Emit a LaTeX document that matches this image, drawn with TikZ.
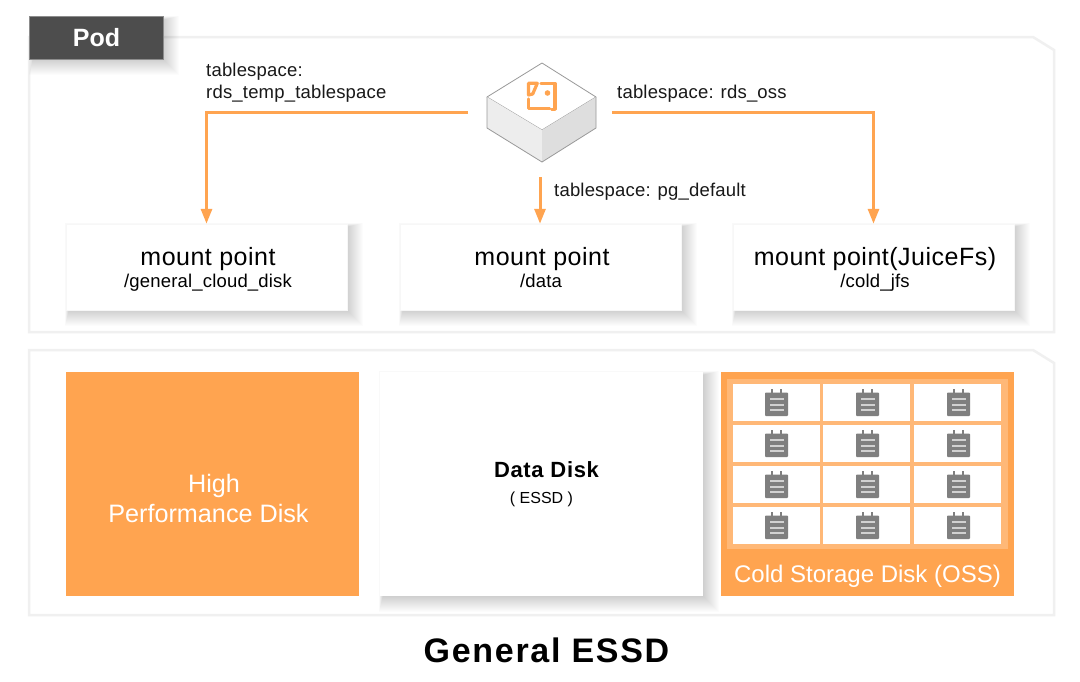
\documentclass[tikz,border=0pt]{standalone}
\usepackage{fontspec}
\setmainfont{Liberation Sans}
\definecolor{org}{HTML}{FFA450}
\definecolor{orgl}{HTML}{FFB877}
\definecolor{dark}{HTML}{4D4D4D}
\definecolor{ico}{HTML}{7F7F7F}
\newcommand{\fs}[1]{\fontsize{#1}{#1}\selectfont}
\newcommand{\fsp}[2]{\fontsize{#1}{#1}\selectfont\addfontfeature{LetterSpace=#2}}
\newcommand{\softshadow}[4]{%
  \foreach \s in {1,2,...,16}{%
    \fill[black,opacity=0.010] (#1+3-0.25*\s,#2+3-0.25*\s) rectangle (#3+\s,#4+\s);}}
\newcommand{\notebook}[2]{%
  \begin{scope}[shift={(#1,#2)}]
    \fill[ico,rounded corners=0.8pt] (-11.5,-10.5) rectangle (11.5,13);
    \fill[ico] (-5.8,-14) rectangle (-3.8,-9);
    \fill[ico] (3.8,-14) rectangle (5.8,-9);
    \foreach \yy in {-5.5,0.5,5.5}{\fill[white!82!black] (-7,\yy) rectangle (7,\yy+2.2);}
  \end{scope}}
\tikzset{
  x=1pt,y=-1pt,
  flow/.style={draw=org,line width=3pt,-{Triangle[length=15pt,width=11pt]}},
  mount/.style={fill=white,draw=black!3,line width=0.5pt,minimum width=281pt,minimum height=86pt,align=center,inner sep=0pt},
  cap1/.style={font=\fsp{18.5}{1},anchor=base west,inner sep=0pt,text=black!90},
  mtitle/.style={font=\fsp{25}{2},inner sep=0pt,anchor=base},
  msub/.style={font=\fsp{18.5}{1},inner sep=0pt,anchor=base},
  panel/.style={fill=white,draw=black!6,line width=2.5pt},
  icon/.style={org,line width=3.2pt,line join=round,line cap=round},
}
\usetikzlibrary{arrows.meta,calc}
\begin{document}
\begin{tikzpicture}
\useasboundingbox (0,0) rectangle (1080,681);
\fill[white] (0,0) rectangle (1080,681);
% panels
\path[panel] (29,37) -- (1033,37) -- (1054,50) -- (1054,332) -- (29,332) -- cycle;
\path[panel] (29,350) -- (1033,350) -- (1054,363) -- (1054,615) -- (29,615) -- cycle;
% Pod tab
\softshadow{30}{17}{163}{59}
\node[fill=dark,draw=black!45,line width=0.4pt,minimum width=134pt,minimum height=43pt,inner sep=0pt,text=white,font=\bfseries\fs{25}] (pod) at (96.5,38) {\raisebox{1pt}{Pod}};
% cube
\fill[white,draw=black!40,line width=0.8pt,line join=round] (542,63) -- (596,97) -- (542,130) -- (487,97) -- cycle;
\fill[black!7] (487,97) -- (542,130) -- (542,162) -- (487,128) -- cycle;
\fill[black!13] (596,97) -- (542,130) -- (542,162) -- (596,128) -- cycle;
\draw[black!40,line width=0.8pt,line join=round] (487,97) -- (487,128) -- (542,162) -- (596,128) -- (596,97);
\draw[icon] (541,83.3) -- (555,83.3) -- (555,109.3) -- (551.7,109.3);
\draw[icon] (549.5,108.5) -- (528.5,108.5) -- (528.5,99);
\draw[icon] (528.5,95) -- (528.5,83.3) -- (537.3,83.3) -- (532.7,94) -- cycle;
\fill[org] (547.5,93) circle (2.8);
\coordinate (cubeL) at (468,112);
\coordinate (cubeR) at (612,112);
\coordinate (cubeB) at (540,177);
% mount points
\softshadow{66}{224}{347}{310}
\softshadow{400}{224}{681}{310}
\softshadow{733}{224}{1014}{310}
\node[mount] (m1) at (206.5,267) {};
\node[mount] (m2) at (540.5,267) {};
\node[mount] (m3) at (873.5,267) {};
\node[mtitle] (m1a) at (208,265) {mount point};
\node[msub] (m1b) at (208,287) {/general\_cloud\_disk};
\node[mtitle] (m2a) at (542,265) {mount point};
\node[msub] (m2b) at (541,287) {/data};
\node[mtitle] (m3a) at (875,265) {mount point(JuiceFs)};
\node[msub] (m3b) at (875,287) {/cold\_jfs};
% connectors
\draw[flow] (cubeL) -| (m1.north);
\draw[flow] (cubeR) -| (m3.north);
\draw[flow] (cubeB) -- (cubeB |- m2.north);
% labels
\node[cap1] (t1) at (206,76) {tablespace:};
\node[cap1] (t2) at (206,98) {rds\_temp\_tablespace};
\node[cap1] (t3) at (617,98) {tablespace: rds\_oss};
\node[cap1] (t4) at (554,196) {tablespace: pg\_default};
% disks
\node[fill=org,minimum width=293pt,minimum height=224pt,inner sep=0pt] (d1) at (212.5,484) {};
\node[font=\fs{25.2},text=white,inner sep=0pt,anchor=base] (d1a) at (214,492) {High};
\node[font=\fs{25.2},text=white,inner sep=0pt,anchor=base] (d1b) at (208.5,522) {Performance Disk};
\softshadow{380}{372}{703}{596}
\node[fill=white,minimum width=323pt,minimum height=224pt,inner sep=0pt] (d2) at (541.5,484) {};
\node[font=\bfseries\fsp{22}{3},inner sep=0pt,anchor=base] (d2a) at (546.5,477) {Data Disk};
\node[font=\fs{16},inner sep=0pt,anchor=base] (d2b) at (541.5,503) {( ESSD )};
\node[fill=org,minimum width=293pt,minimum height=224pt,inner sep=0pt] (d3) at (867.5,484) {};
\fill[orgl] (727,379) rectangle (1008,549);
\foreach \cx/\ca/\cb in {776/733/820,867/823/910,958/914/1001}{
  \foreach \cy/\ya/\yb in {402/384/421,443/425/462,484/466/503,525/507/544}{
    \fill[white] (\ca,\ya) rectangle (\cb,\yb);
    \notebook{\cx+0.5}{\cy+1}
  }}
\node[font=\fs{24},text=white,inner sep=0pt,anchor=base] (d3a) at (867.5,582) {Cold Storage Disk (OSS)};
\node[font=\bfseries\fsp{34}{5},inner sep=0pt,anchor=base] (title) at (546.5,662) {General ESSD};
\end{tikzpicture}
\end{document}
